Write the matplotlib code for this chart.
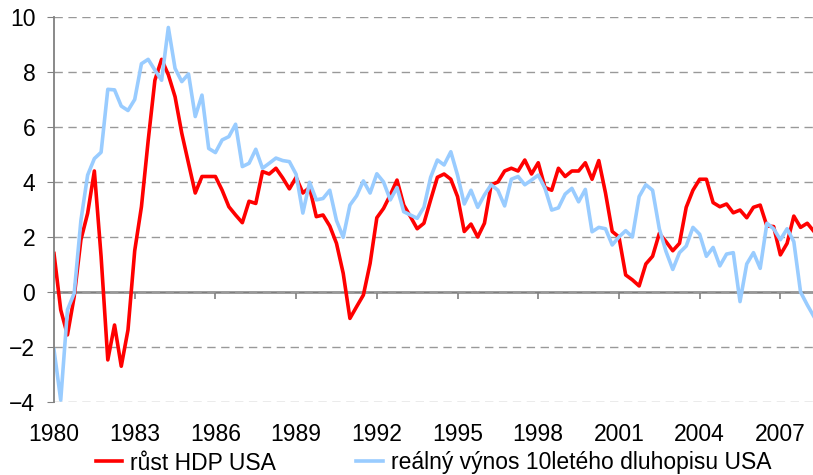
import numpy as np
import matplotlib
matplotlib.use("Agg")
import matplotlib.pyplot as plt

plt.rcParams['font.family'] = ['Liberation Sans', 'DejaVu Sans']

# čtvrtletní data 1980Q1 - 2008Q2
rust_hdp = [1.4, -0.65, -1.56, -0.17, 1.9, 2.86, 4.4, 1.3, -2.47, -1.2,
            -2.7, -1.38, 1.5, 3.1, 5.5, 7.7, 8.46, 7.9, 7.1, 5.77,
            4.68, 3.6, 4.2, 4.2, 4.2, 3.7, 3.1, 2.8, 2.52, 3.3,
            3.22, 4.38, 4.29, 4.5, 4.15, 3.75, 4.17, 3.6, 3.8, 2.74,
            2.8, 2.4, 1.77, 0.68, -0.96, -0.53, -0.11, 1.04, 2.7, 3.04,
            3.53, 4.07, 3.16, 2.74, 2.3, 2.5, 3.35, 4.17, 4.29, 4.1,
            3.47, 2.2, 2.47, 2.0, 2.5, 3.9, 4.0, 4.4, 4.5, 4.4,
            4.8, 4.29, 4.7, 3.8, 3.7, 4.5, 4.2, 4.4, 4.4, 4.7,
            4.1, 4.78, 3.6, 2.2, 2.0, 0.62, 0.44, 0.22, 1.02, 1.3,
            2.13, 1.83, 1.5, 1.77, 3.08, 3.7, 4.1, 4.1, 3.25, 3.1,
            3.2, 2.88, 2.98, 2.7, 3.08, 3.16, 2.4, 2.38, 1.35, 1.77,
            2.76, 2.35, 2.5, 2.2]

realny_vynos = [-2.1, -3.93, -0.65, -0.05, 2.6, 4.25, 4.85, 5.08, 7.37, 7.35,
                6.76, 6.6, 7.0, 8.3, 8.46, 8.07, 7.7, 9.62, 8.13, 7.65,
                7.93, 6.38, 7.16, 5.22, 5.07, 5.53, 5.65, 6.1, 4.56, 4.68,
                5.19, 4.5, 4.68, 4.87, 4.78, 4.74, 4.28, 2.87, 3.99, 3.35,
                3.4, 3.7, 2.6, 1.99, 3.16, 3.5, 4.04, 3.6, 4.3, 4.0,
                3.35, 3.8, 2.92, 2.8, 2.68, 3.08, 4.17, 4.8, 4.62, 5.1,
                4.25, 3.2, 3.7, 3.08, 3.53, 3.9, 3.7, 3.13, 4.1, 4.2,
                3.9, 4.07, 4.25, 3.77, 2.98, 3.06, 3.56, 3.77, 3.28, 3.73,
                2.19, 2.35, 2.3, 1.71, 2.0, 2.23, 2.0, 3.47, 3.9, 3.7,
                2.3, 1.47, 0.82, 1.43, 1.67, 2.35, 2.1, 1.3, 1.62, 0.95,
                1.38, 1.43, -0.35, 1.02, 1.43, 0.86, 2.5, 2.3, 1.9, 2.3,
                1.83, 0.0, -0.47, -0.9]

roky = ['1980', '1983', '1986', '1989', '1992', '1995', '1998', '2001', '2004', '2007']

fig = plt.figure(figsize=(8.13, 4.75), dpi=100)
ax = fig.add_axes([54 / 813, 73 / 475, 760 / 813, 385 / 475])

q = np.arange(len(rust_hdp))
ax.plot(q, rust_hdp, color='#ff0000', lw=2.6, label='růst HDP USA')
ax.plot(q, realny_vynos, color='#99ccff', lw=2.6, label='reálný výnos 10letého dluhopisu USA')

ax.set_xlim(0, len(q) - 1)
ax.set_ylim(-4, 10)
ax.set_yticks(range(-4, 11, 2))
ax.grid(axis='y', color='#999999', ls=(0, (6, 4)), lw=1)
ax.set_axisbelow(True)

for s in ['top', 'right', 'bottom']:
    ax.spines[s].set_visible(False)
ax.spines['left'].set_color('#808080')
ax.spines['left'].set_linewidth(1.3)

ax.tick_params(axis='y', labelsize=16.5, length=5, color='#808080', pad=8.5)
ax.set_xticks(np.arange(len(roky)) * 12)
ax.set_xticklabels(roky)
ax.tick_params(axis='x', labelsize=16.5, length=0, pad=15)

# nulová osa s ryskami
zero = ax.secondary_xaxis(4 / 14)
zero.set_xticks(np.arange(len(roky)) * 12)
zero.set_xticklabels([])
zero.tick_params(axis='x', length=5, color='#808080', width=1.2, direction='out')
zero.spines['bottom'].set_color('#808080')
zero.spines['bottom'].set_linewidth(1.8)

fig.legend(loc='center left', bbox_to_anchor=(96 / 813, 1 - 463 / 475), ncol=2,
           frameon=False, fontsize=16.5, handlelength=1.15, handletextpad=0.35,
           columnspacing=3.5, borderpad=0, borderaxespad=0)

fig.savefig('out.png', dpi=100)
